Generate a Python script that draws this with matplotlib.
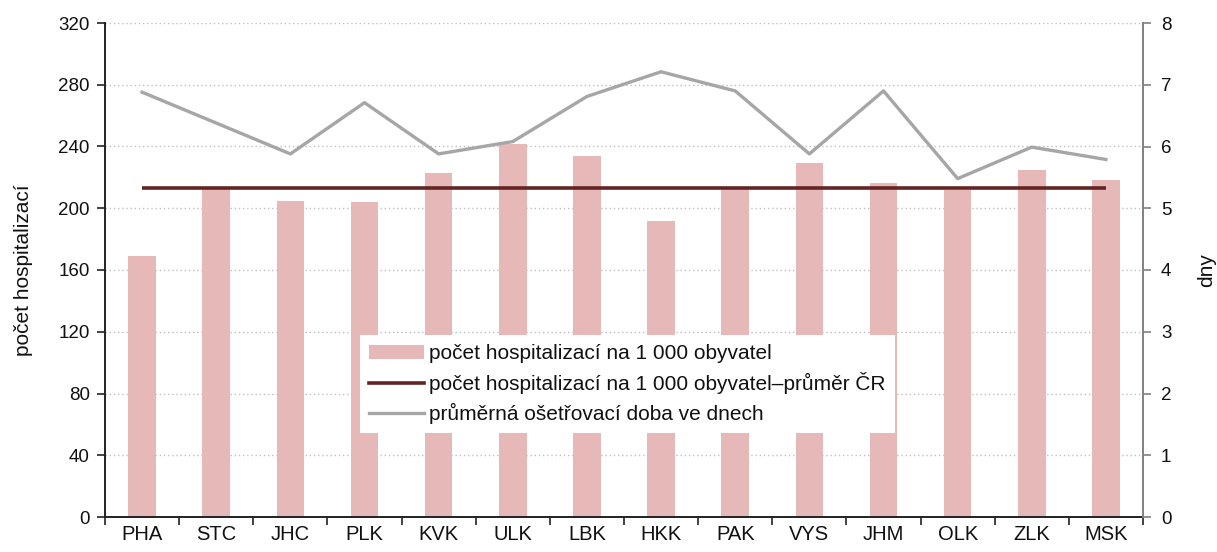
import matplotlib
matplotlib.use("Agg")
import matplotlib.pyplot as plt
import numpy as np
from matplotlib.patches import Patch
from matplotlib.lines import Line2D

plt.rcParams['font.family'] = ['Liberation Sans', 'DejaVu Sans']

regions = ["PHA", "STC", "JHC", "PLK", "KVK", "ULK", "LBK", "HKK", "PAK", "VYS", "JHM", "OLK", "ZLK", "MSK"]
hospitalizations = [169, 213, 205, 204, 223, 241.5, 234, 191.5, 213, 229, 216.5, 212, 225, 218]
cr_average = 213
avg_stay_days = [6.88, 6.38, 5.88, 6.71, 5.88, 6.08, 6.81, 7.21, 6.90, 5.88, 6.90, 5.48, 5.99, 5.79]

left_ticks = [0, 40, 80, 120, 160, 200, 240, 280, 320]
right_ticks = [0, 1, 2, 3, 4, 5, 6, 7, 8]

label_bars = "počet hospitalizací na 1 000 obyvatel"
label_avg = "počet hospitalizací na 1 000 obyvatel–průměr ČR"
label_line = "průměrná ošetřovací doba ve dnech"

bar_color = "#E6B8B7"
avg_color = "#632523"
line_color = "#A6A6A6"
text_color = "#111111"

fig = plt.figure(figsize=(12.17, 5.52), dpi=100)
ax = fig.add_axes([105/1217, 1-517/552, (1143-105)/1217, (517-23)/552])
ax2 = ax.twinx()

x = np.arange(len(regions))
ax.bar(x, hospitalizations, width=0.37, color=bar_color, zorder=2)
ax.plot(x, [cr_average]*len(regions), color=avg_color, lw=2.6, zorder=3, solid_capstyle='butt')
ax2.plot(x, avg_stay_days, color=line_color, lw=2.4, zorder=3)

ax.set_xlim(-0.5, len(regions)-0.5)
ax.set_ylim(0, 320)
ax2.set_ylim(0, 8)
ax.set_yticks(left_ticks)
ax2.set_yticks(right_ticks)

ax.set_xticks(np.arange(-0.5, len(regions), 1.0))
ax.set_xticklabels([])
ax.set_xticks(x, minor=True)
ax.set_xticklabels(regions, minor=True)
ax.tick_params(axis='x', which='major', direction='out', length=6, width=1.2, color='#222222')
ax.tick_params(axis='x', which='minor', length=0, pad=6, labelsize=14.5, labelcolor=text_color)
ax.tick_params(axis='y', direction='out', length=6, width=1.2, color='#222222', labelsize=13.5, labelcolor=text_color, pad=5)
ax2.tick_params(axis='y', direction='out', length=6, width=1.2, color='#808080', labelsize=13.5, labelcolor=text_color, pad=7)

ax.yaxis.grid(True, linestyle=(0, (1, 2)), color='#BFBFBF', lw=1.0, zorder=0)
ax.set_axisbelow(True)

ax.spines['top'].set_visible(False)
ax2.spines['top'].set_visible(False)
ax.spines['right'].set_visible(False)
ax2.spines['left'].set_visible(False)
ax2.spines['bottom'].set_visible(False)
ax.spines['left'].set_color('#222222')
ax.spines['left'].set_linewidth(1.4)
ax.spines['bottom'].set_color('#222222')
ax.spines['bottom'].set_linewidth(1.4)
ax2.spines['right'].set_color('#808080')
ax2.spines['right'].set_linewidth(1.4)

ax.set_ylabel("počet hospitalizací", fontsize=15, color=text_color)
ax.yaxis.set_label_coords(-0.069, 0.5)
ax2.set_ylabel("dny", fontsize=15, color=text_color)
ax2.yaxis.set_label_coords(1.052, 0.5)

handles = [Patch(facecolor=bar_color, edgecolor='none'),
           Line2D([0], [0], color=avg_color, lw=2.6),
           Line2D([0], [0], color=line_color, lw=2.4)]
leg = ax2.legend(handles, [label_bars, label_avg, label_line],
                 loc='upper left', bbox_to_anchor=(360/1217, 1-335/552),
                 bbox_transform=fig.transFigure, frameon=True, fancybox=False,
                 edgecolor='none', facecolor='white', framealpha=1.0,
                 fontsize=15, handlelength=2.6, handleheight=0.6, handletextpad=0.25,
                 labelspacing=0.42, borderpad=0.45, borderaxespad=0)
for t in leg.get_texts():
    t.set_color(text_color)
leg.set_zorder(10)

fig.savefig("out.png", dpi=100)
